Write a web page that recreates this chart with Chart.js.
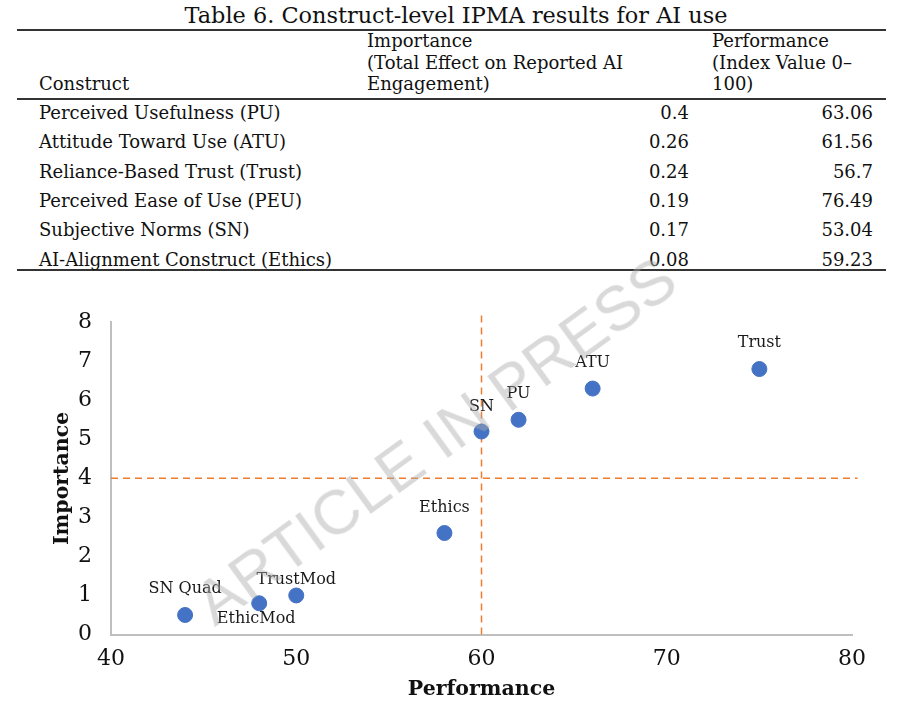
<!DOCTYPE html>
<html>
<head>
<meta charset="utf-8">
<script src="https://cdn.jsdelivr.net/npm/chart.js@4/dist/chart.umd.min.js"></script>
<style>
    body { margin: 0; background: #fff; }
    #page { position: relative; width: 918px; height: 718px; overflow: hidden; font-family: "DejaVu Serif", serif; color: #111; }
    .cell { position: absolute; font-size: 18px; line-height: 22px; white-space: nowrap; }
    .num { text-align: right; }
    .rule { position: absolute; left: 17px; width: 869px; height: 0; border-top: 2px solid #333; }
    #title { position: absolute; top: 2px; left: 0; width: 912px; text-align: center; font-size: 22.4px; line-height: 26px; }
    #chartBox { position: absolute; left: 0; top: 290px; width: 918px; height: 428px; }
    #watermark { position: absolute; left: 435px; top: 440px; transform: translate(-50%, -50%) rotate(-36deg);
        font-family: "Liberation Sans", sans-serif; font-size: 63px; color: rgba(170, 170, 170, 0.45); white-space: nowrap; pointer-events: none; }
</style>
</head>
<body>
<div id="page">
    <div id="title">Table 6. Construct-level IPMA results for AI use</div>
    <div class="rule" style="top:29px"></div>
    <div class="rule" style="top:98px"></div>
    <div class="rule" style="top:269px"></div>
    <div id="table"></div>
    <div id="chartBox"><canvas id="ipmaChart"></canvas></div>
    <div id="watermark">ARTICLE IN PRESS</div>
</div>
<script>
// === Table data ===
const constructs = ['Perceived Usefulness (PU)', 'Attitude Toward Use (ATU)', 'Reliance-Based Trust (Trust)',
    'Perceived Ease of Use (PEU)', 'Subjective Norms (SN)', 'AI-Alignment Construct (Ethics)'];
const totalEffect = ['0.4', '0.26', '0.24', '0.19', '0.17', '0.08'];
const indexValue = ['63.06', '61.56', '56.7', '76.49', '53.04', '59.23'];

// === Scatter data ===
const pointLabels = ['SN Quad', 'EthicMod', 'TrustMod', 'Ethics', 'SN', 'PU', 'ATU', 'Trust'];
const performance = [44, 48, 50, 58, 60, 62, 66, 75];
const importance = [0.5, 0.8, 1.0, 2.6, 5.2, 5.5, 6.3, 6.8];
const xTicks = [40, 50, 60, 70, 80];
const yTicks = [0, 1, 2, 3, 4, 5, 6, 7, 8];
const perfCut = 60;
const impCut = 4;

// build the table
const tbl = document.getElementById('table');
function addCell(text, x, yMid, cls, w) {
    const d = document.createElement('div');
    d.className = 'cell' + (cls ? ' ' + cls : '');
    d.textContent = text;
    d.style.top = (yMid - 11) + 'px';
    if (cls === 'num') { d.style.left = (x - w) + 'px'; d.style.width = w + 'px'; }
    else d.style.left = x + 'px';
    tbl.appendChild(d);
}
addCell('Construct', 39, 84);
['Importance', '(Total Effect on Reported AI', 'Engagement)'].forEach((t, i) => addCell(t, 367, 41 + i * 21.5));
['Performance', '(Index Value 0–', '100)'].forEach((t, i) => addCell(t, 712, 41 + i * 21.5));
constructs.forEach((c, i) => {
    const y = 113 + i * 29.3;
    addCell(c, 39, y);
    addCell(totalEffect[i], 689, y, 'num', 100);
    addCell(indexValue[i], 873, y, 'num', 100);
});

// labels next to the points
const labelOffset = [-26, 16, -16, -25, -25, -26, -26, -26];
const pointLabelPlugin = {
    id: 'pointLabels',
    afterDatasetsDraw(chart) {
        const ctx = chart.ctx;
        const meta = chart.getDatasetMeta(0);
        ctx.save();
        ctx.font = '16px "DejaVu Serif"';
        ctx.fillStyle = '#1a1a1a';
        ctx.textAlign = 'center';
        ctx.textBaseline = 'middle';
        meta.data.forEach((pt, i) => {
            ctx.fillText(pointLabels[i], pt.x - (i === 1 ? 3 : 0), pt.y + labelOffset[i]);
        });
        ctx.restore();
    }
};

new Chart(document.getElementById('ipmaChart'), {
    type: 'scatter',
    data: {
        datasets: [
            {
                data: performance.map((p, i) => ({ x: p, y: importance[i] })),
                backgroundColor: '#4472C4',
                borderColor: '#4472C4',
                pointRadius: 7.5,
                pointHoverRadius: 7.5
            },
            {
                type: 'line',
                data: [{ x: 40, y: impCut }, { x: 80.3, y: impCut }],
                borderColor: '#ED7D31',
                borderWidth: 1.5,
                borderDash: [7, 5],
                pointRadius: 0,
                clip: false
            },
            {
                type: 'line',
                data: [{ x: perfCut, y: 0 }, { x: perfCut, y: 8.22 }],
                borderColor: '#ED7D31',
                borderWidth: 1.5,
                borderDash: [7, 5],
                pointRadius: 0,
                clip: false
            }
        ]
    },
    options: {
        responsive: true,
        maintainAspectRatio: false,
        animation: false,
        layout: { padding: { left: 47, right: 66, top: 30, bottom: 0 } },
        plugins: { legend: { display: false }, tooltip: { enabled: false } },
        scales: {
            x: {
                type: 'linear',
                min: 40, max: 80,
                afterBuildTicks: s => { s.ticks = xTicks.map(v => ({ value: v })); },
                afterFit: s => { s.height = 83.5; },
                grid: { display: false, drawTicks: false },
                border: { display: true, color: '#bfbfbf', width: 2 },
                ticks: { color: '#111', padding: 12, font: { family: 'DejaVu Serif', size: 22 } },
                title: { display: true, text: 'Performance', color: '#111', padding: { top: 0, bottom: 16 },
                    font: { family: 'DejaVu Serif', size: 20.5, weight: 'bold' } }
            },
            y: {
                min: 0, max: 8,
                afterBuildTicks: s => { s.ticks = yTicks.map(v => ({ value: v })); },
                afterFit: s => { s.width = 64; },
                grid: { display: false, drawTicks: false },
                border: { display: true, color: '#bfbfbf', width: 2 },
                ticks: { color: '#111', padding: 19, font: { family: 'DejaVu Serif', size: 22 } },
                title: { display: true, text: 'Importance', color: '#111', padding: { top: 3, bottom: 0 },
                    font: { family: 'DejaVu Serif', size: 20.5, weight: 'bold' } }
            }
        }
    },
    plugins: [pointLabelPlugin]
});
</script>
</body>
</html>
